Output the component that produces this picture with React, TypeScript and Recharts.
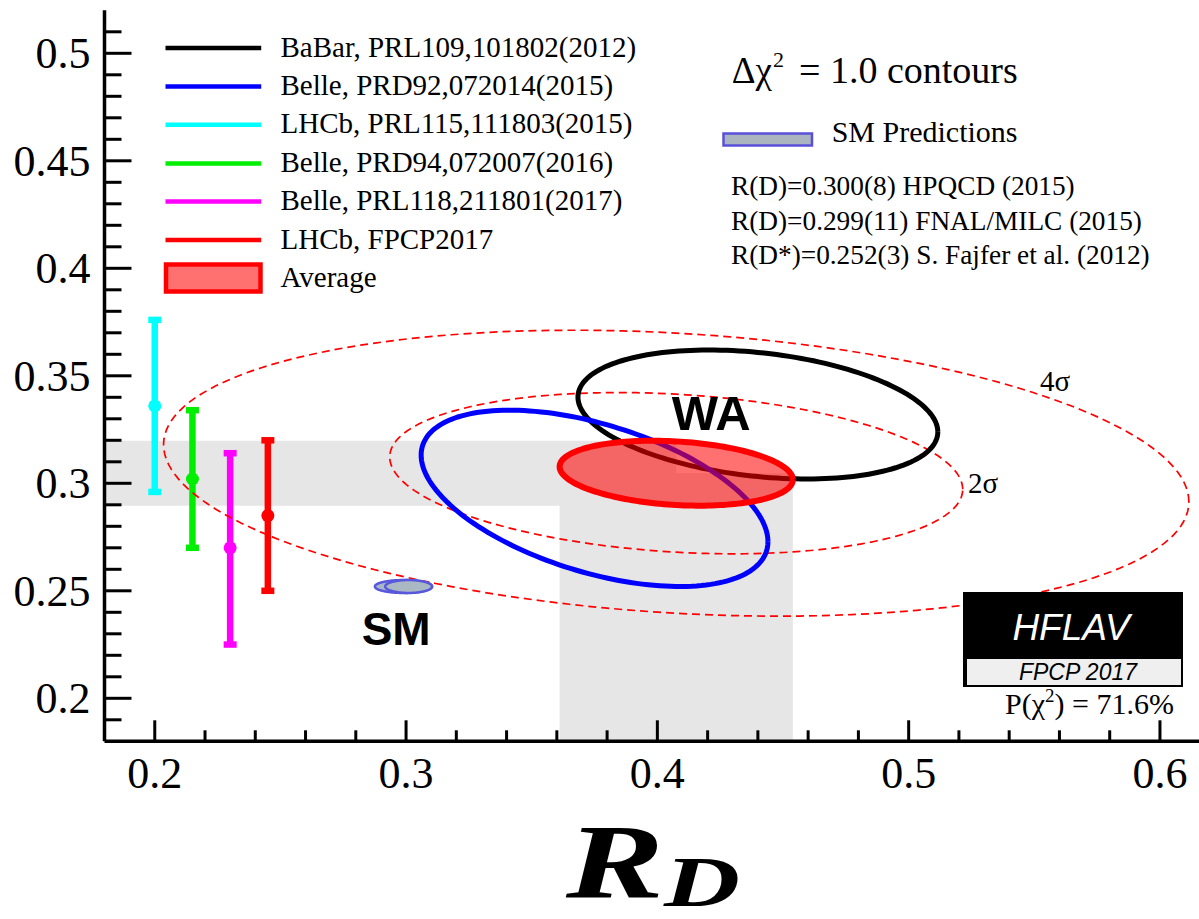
import React from 'react';
import { ComposedChart, XAxis, YAxis, Scatter, ErrorBar, ReferenceArea } from 'recharts';

// ---------- axes ----------
const X_DOMAIN: [number, number] = [0.18, 0.618];
const Y_DOMAIN: [number, number] = [0.18, 0.52];
const X_MAJOR_TICKS = [0.2, 0.3, 0.4, 0.5, 0.6];
const X_TICK_LABELS = ['0.2', '0.3', '0.4', '0.5', '0.6'];
const X_MINOR_TICKS = [0.22, 0.24, 0.26, 0.28, 0.32, 0.34, 0.36, 0.38, 0.42, 0.44, 0.46, 0.48, 0.52, 0.54, 0.56, 0.58];
const Y_MAJOR_TICKS = [0.2, 0.25, 0.3, 0.35, 0.4, 0.45, 0.5];
const Y_TICK_LABELS = ['0.2', '0.25', '0.3', '0.35', '0.4', '0.45', '0.5'];
const Y_MINOR_TICKS = [0.19, 0.21, 0.22, 0.23, 0.24, 0.26, 0.27, 0.28, 0.29, 0.31, 0.32, 0.33, 0.34, 0.36, 0.37, 0.38, 0.39, 0.41, 0.42, 0.43, 0.44, 0.46, 0.47, 0.48, 0.49, 0.51];

// ---------- 2D measurements: Δχ² = 1 contours (R(D), R(D*)) ----------
const CONTOUR_NAMES = ['BaBar', 'Belle 2015', 'Average'];
const CONTOUR_RD = [0.440, 0.375, 0.4075];
const CONTOUR_RD_ERR = [0.0716, 0.069, 0.0464];
const CONTOUR_RDS = [0.332, 0.293, 0.3047];
const CONTOUR_RDS_ERR = [0.030, 0.041, 0.0151];
const CONTOUR_RHO = [-0.27, -0.49, -0.20];

// ---------- WA significance contours ----------
const SIGMA_LABELS = ['2σ', '4σ'];
const SIGMA_RD_HALF = [0.114, 0.204];
const SIGMA_RDS_HALF = [0.0375, 0.0665];
const SIGMA_RHO = [-0.2, -0.2];

// ---------- SM predictions ----------
const SM_NAMES = ['FNAL/MILC', 'HPQCD'];
const SM_RD = [0.299, 0.301];
const SM_RD_ERR = [0.0114, 0.0093];
const SM_RDS = [0.252, 0.252];
const SM_RDS_ERR = [0.003, 0.003];

// ---------- R(D*)-only measurements ----------
const RDS_ONLY_NAMES = ['LHCb 2015', 'Belle 2016', 'Belle 2017', 'LHCb 2017'];
const RDS_ONLY_X = [0.2, 0.215, 0.23, 0.245];
const RDS_ONLY_VAL = [0.336, 0.302, 0.270, 0.285];
const RDS_ONLY_ERR_LOW = [0.040, 0.032, 0.045, 0.035];
const RDS_ONLY_ERR_HIGH = [0.040, 0.032, 0.044, 0.035];
const RDS_ONLY_COLORS = ['#00ffff', '#00ee00', '#ff00ff', '#ff0000'];

// ---------- legend ----------
const LEGEND_LABELS = [
  'BaBar, PRL109,101802(2012)',
  'Belle, PRD92,072014(2015)',
  'LHCb, PRL115,111803(2015)',
  'Belle, PRD94,072007(2016)',
  'Belle, PRL118,211801(2017)',
  'LHCb, FPCP2017',
];
const LEGEND_COLORS = ['#000000', '#0000ff', '#00ffff', '#00ee00', '#ff00ff', '#ff0000'];
const SM_TEXT_LINES = [
  'R(D)=0.300(8) HPQCD (2015)',
  'R(D)=0.299(11) FNAL/MILC (2015)',
  'R(D*)=0.252(3) S. Fajfer et al. (2012)',
];

const SERIF = '"Liberation Serif", "Times New Roman", Times, serif';
const SANS = '"Liberation Sans", Arial, Helvetica, sans-serif';

const N_PTS = 180;
function contour(cx: number, sx: number, cy: number, sy: number, rho: number) {
  const k = Math.sqrt(1 - rho * rho);
  const pts: { x: number; y: number }[] = [];
  for (let i = 0; i <= N_PTS; i++) {
    const t = (2 * Math.PI * i) / N_PTS;
    pts.push({ x: cx + sx * Math.cos(t), y: cy + sy * (rho * Math.cos(t) + k * Math.sin(t)) });
  }
  return pts;
}

const isIn = (arr: number[], v: number) => arr.findIndex((m) => Math.abs(m - v) < 1e-9);

const BottomTick = (p: any) => {
  const i = isIn(X_MAJOR_TICKS, p.payload.value);
  const major = i >= 0;
  return (
    <g>
      <line x1={p.x} y1={p.y} x2={p.x} y2={p.y - (major ? 21 : 11)} stroke="#000" strokeWidth={3} />
      {major && (
        <text x={p.x} y={p.y + 47} textAnchor="middle" fontSize={44} fontFamily={SERIF} fill="#000">
          {X_TICK_LABELS[i]}
        </text>
      )}
    </g>
  );
};
const TopTick = (p: any) => {
  const major = isIn(X_MAJOR_TICKS, p.payload.value) >= 0;
  return <line x1={p.x} y1={p.y} x2={p.x} y2={p.y + (major ? 21 : 11)} stroke="#000" strokeWidth={3} />;
};
const LeftTick = (p: any) => {
  const i = isIn(Y_MAJOR_TICKS, p.payload.value);
  const major = i >= 0;
  return (
    <g>
      <line x1={p.x} y1={p.y} x2={p.x + (major ? 27 : 17)} y2={p.y} stroke="#000" strokeWidth={3} />
      {major && (
        <text x={p.x - 14} y={p.y + 15} textAnchor="end" fontSize={44} fontFamily={SERIF} fill="#000">
          {Y_TICK_LABELS[i]}
        </text>
      )}
    </g>
  );
};
const RightTick = (p: any) => {
  const major = isIn(Y_MAJOR_TICKS, p.payload.value) >= 0;
  return <line x1={p.x} y1={p.y} x2={p.x - (major ? 27 : 17)} y2={p.y} stroke="#000" strokeWidth={3} />;
};

const NoShape = () => <g />;

export default function App() {
  const xTicks = [...X_MAJOR_TICKS, ...X_MINOR_TICKS];
  const yTicks = [...Y_MAJOR_TICKS, ...Y_MINOR_TICKS];
  const avg = 2;
  const sigmaCurves = SIGMA_LABELS.map((_, i) =>
    contour(CONTOUR_RD[avg], SIGMA_RD_HALF[i], CONTOUR_RDS[avg], SIGMA_RDS_HALF[i], SIGMA_RHO[i])
  );
  const measCurves = CONTOUR_NAMES.map((_, i) =>
    contour(CONTOUR_RD[i], CONTOUR_RD_ERR[i], CONTOUR_RDS[i], CONTOUR_RDS_ERR[i], CONTOUR_RHO[i])
  );
  const smCurves = SM_NAMES.map((_, i) => contour(SM_RD[i], SM_RD_ERR[i], SM_RDS[i], SM_RDS_ERR[i], 0));
  const rdsOnly = RDS_ONLY_NAMES.map((_, i) => [
    { x: RDS_ONLY_X[i], y: RDS_ONLY_VAL[i], err: [RDS_ONLY_ERR_LOW[i], RDS_ONLY_ERR_HIGH[i]] },
  ]);
  const axisLine = { stroke: '#000', strokeWidth: 3.5 };
  const legendRowY = [48, 86.6, 124.8, 163.4, 201.6, 240, 278];

  return (
    <div style={{ position: 'absolute', left: 0, top: 0, width: 1199, height: 919, overflow: 'hidden', background: '#fff' }}>
      <ComposedChart width={1230} height={919} margin={{ top: 10.3, right: 24.8, left: 0, bottom: 0 }}>
        <XAxis xAxisId="b" dataKey="x" type="number" domain={X_DOMAIN} allowDataOverflow ticks={xTicks} interval={0}
          tick={BottomTick} tickLine={false} tickSize={0} tickMargin={0} axisLine={axisLine} height={177.7} orientation="bottom" />
        <XAxis xAxisId="t" type="number" domain={X_DOMAIN} allowDataOverflow ticks={xTicks} interval={0}
          tick={TopTick} tickLine={false} tickSize={0} tickMargin={0} axisLine={axisLine} height={0} orientation="top" />
        <YAxis yAxisId="l" dataKey="y" type="number" domain={Y_DOMAIN} allowDataOverflow ticks={yTicks} interval={0}
          tick={LeftTick} tickLine={false} tickSize={0} tickMargin={0} axisLine={axisLine} width={104.5} orientation="left" />
        <YAxis yAxisId="r" type="number" domain={Y_DOMAIN} allowDataOverflow ticks={yTicks} interval={0}
          tick={RightTick} tickLine={false} tickSize={0} tickMargin={0} axisLine={axisLine} width={0} orientation="right" />

        <ReferenceArea xAxisId="b" yAxisId="l" x1={X_DOMAIN[0]} x2={CONTOUR_RD[avg]}
          y1={CONTOUR_RDS[avg] - CONTOUR_RDS_ERR[avg]} y2={CONTOUR_RDS[avg] + CONTOUR_RDS_ERR[avg]}
          fill="#e6e6e6" fillOpacity={1} stroke="none" ifOverflow="visible" />
        <ReferenceArea xAxisId="b" yAxisId="l" x1={CONTOUR_RD[avg] - CONTOUR_RD_ERR[avg]} x2={CONTOUR_RD[avg] + CONTOUR_RD_ERR[avg]}
          y1={Y_DOMAIN[0]} y2={CONTOUR_RDS[avg]}
          fill="#e6e6e6" fillOpacity={1} stroke="none" ifOverflow="visible" />

        {sigmaCurves.map((d, i) => (
          <Scatter key={'s' + i} xAxisId="b" yAxisId="l" data={d} shape={NoShape} isAnimationActive={false}
            line={{ stroke: '#ff0000', strokeWidth: 1.7, strokeDasharray: '8 5', fill: 'none' }} />
        ))}
        <Scatter xAxisId="b" yAxisId="l" data={measCurves[0]} shape={NoShape} isAnimationActive={false}
          line={{ stroke: '#000000', strokeWidth: 5, fill: 'none' }} />
        <Scatter xAxisId="b" yAxisId="l" data={measCurves[1]} shape={NoShape} isAnimationActive={false}
          line={{ stroke: '#0000ff', strokeWidth: 5, fill: 'none' }} />
        {smCurves.map((d, i) => (
          <Scatter key={'sm' + i} xAxisId="b" yAxisId="l" data={d} shape={NoShape} isAnimationActive={false}
            line={{ stroke: '#5858dc', strokeWidth: 2.5, fill: '#aab8c4' }} />
        ))}
        {rdsOnly.map((d, i) => (
          <Scatter key={'r' + i} xAxisId="b" yAxisId="l" data={d} isAnimationActive={false}
            shape={(p: any) => <circle cx={p.cx} cy={p.cy} r={6.5} fill={RDS_ONLY_COLORS[i]} />}>
            <ErrorBar dataKey="err" direction="y" width={6.5} strokeWidth={6.5} stroke={RDS_ONLY_COLORS[i]} />
          </Scatter>
        ))}
        <Scatter xAxisId="b" yAxisId="l" data={measCurves[2]} shape={NoShape} isAnimationActive={false}
          line={{ stroke: '#ff0000', strokeWidth: 6, fill: 'rgba(255,0,0,0.56)' }} />
      </ComposedChart>

      <svg width={1199} height={919} style={{ position: 'absolute', left: 0, top: 0, pointerEvents: 'none' }}>
        {/* legend */}
        {LEGEND_LABELS.map((t, i) => (
          <g key={t}>
            <line x1={165.5} x2={261.2} y1={legendRowY[i]} y2={legendRowY[i]} stroke={LEGEND_COLORS[i]} strokeWidth={4.5} />
            <text x={280.5} y={legendRowY[i] + 8.5} fontSize={29} fontFamily={SERIF} fill="#000">{t}</text>
          </g>
        ))}
        <rect x={166} y={264.5} width={94.5} height={27} fill="rgba(255,0,0,0.56)" stroke="#ff0000" strokeWidth={4.5} />
        <text x={280.5} y={legendRowY[6] + 8.5} fontSize={29} fontFamily={SERIF} fill="#000">Average</text>

        {/* right-hand info */}
        <text x={731.7} y={83.3} fontSize={37} fontFamily={SERIF} fill="#000">Δχ</text>
        <text x={773} y={66.7} fontSize={22} fontFamily={SERIF} fill="#000">2</text>
        <text x={799} y={83.3} fontSize={38} fontFamily={SERIF} fill="#000">= 1.0 contours</text>
        <rect x={723.5} y={133.5} width={88.5} height={12} fill="#aab5c0" stroke="#5a50d8" strokeWidth={2.5} />
        <text x={831.7} y={141.7} fontSize={30} fontFamily={SERIF} fill="#000">SM Predictions</text>
        {SM_TEXT_LINES.map((t, i) => (
          <text key={t} x={731} y={195 + i * 34.5} fontSize={27.3} fontFamily={SERIF} fill="#000">{t}</text>
        ))}

        {/* annotations */}
        <text x={671.7} y={430} fontSize={49} fontWeight="bold" fontFamily={SANS} fill="#000">WA</text>
        <text x={361.7} y={645} fontSize={46} fontWeight="bold" fontFamily={SANS} fill="#000">SM</text>
        <text x={1040} y={391} fontSize={29} fontFamily={SERIF} fill="#000">{SIGMA_LABELS[1]}</text>
        <text x={968} y={493} fontSize={29} fontFamily={SERIF} fill="#000">{SIGMA_LABELS[0]}</text>

        {/* HFLAV logo */}
        <rect x={963} y={592} width={220} height={95} fill="#000" />
        <rect x={967} y={659} width={214} height={26} fill="#efefef" />
        <text x={1071} y={640} textAnchor="middle" fontSize={37} fontStyle="italic" fontFamily={SANS} fill="#fff">HFLAV</text>
        <text x={1078} y={679.5} textAnchor="middle" fontSize={23} fontStyle="italic" fontFamily={SANS} fill="#000">FPCP 2017</text>
        <text x={1005} y={714} fontSize={30} fontFamily={SERIF} fill="#000">
          P(χ<tspan dy={-12} fontSize={19}>2</tspan><tspan dy={12}>) = 71.6%</tspan>
        </text>

        {/* x-axis title */}
        <text x={566} y={897} fontSize={106} fontWeight="bold" fontStyle="italic" fontFamily={SERIF} fill="#000"
          textLength={98} lengthAdjust="spacingAndGlyphs">R</text>
        <text x={664} y={906} fontSize={72} fontWeight="bold" fontStyle="italic" fontFamily={SERIF} fill="#000"
          textLength={76} lengthAdjust="spacingAndGlyphs">D</text>
      </svg>
    </div>
  );
}
